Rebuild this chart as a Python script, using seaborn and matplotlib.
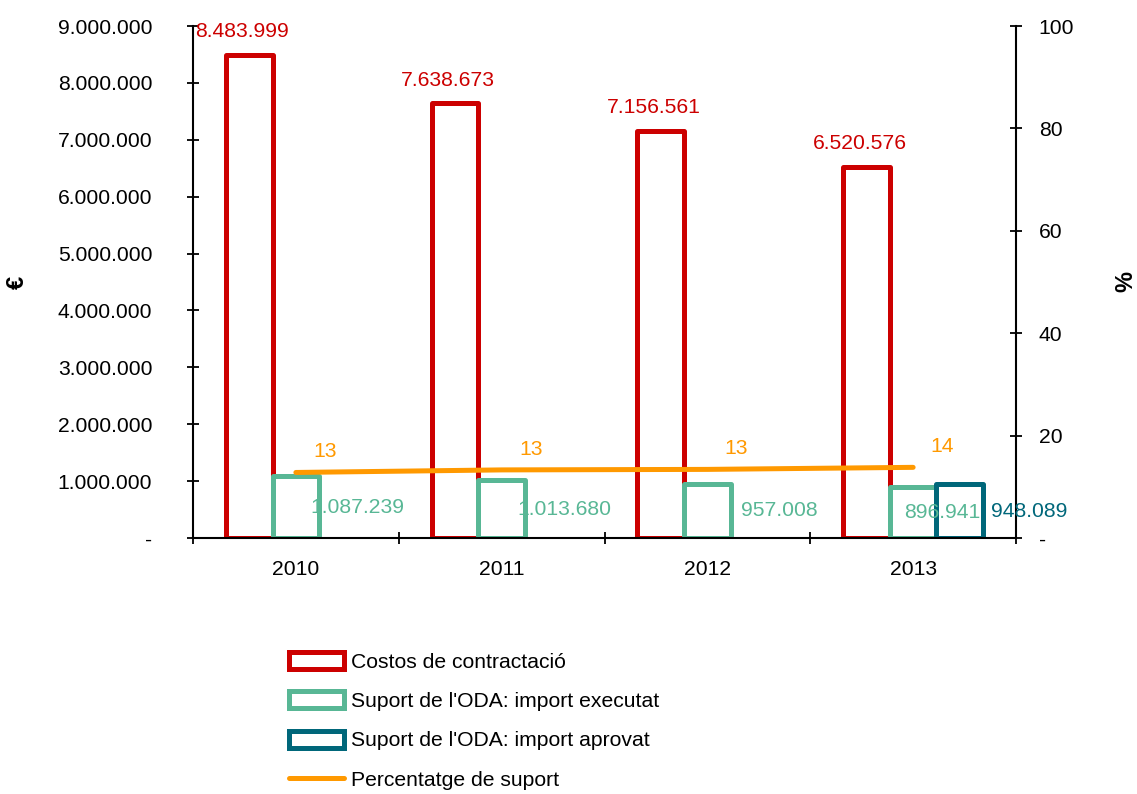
import seaborn as sns
import pandas as pd
import numpy as np
import matplotlib.pyplot as plt
from matplotlib.patches import Patch
from matplotlib.lines import Line2D
from matplotlib.ticker import FuncFormatter, FixedLocator

years = ['2010', '2011', '2012', '2013']
costos = [8483999, 7638673, 7156561, 6520576]
executat = [1087239, 1013680, 957008, 896941]
aprovat_year = ['2013']
aprovat = [948089]
percentatge = [12.8, 13.3, 13.4, 13.8]

series_names = ['Costos de contractació', "Suport de l'ODA: import executat",
                "Suport de l'ODA: import aprovat"]
line_name = 'Percentatge de suport'
colors = ['#CC0000', '#58B795', '#00677A']
orange = '#FF9900'

df = pd.concat([
    pd.DataFrame({'year': years, 'value': costos, 'series': series_names[0]}),
    pd.DataFrame({'year': years, 'value': executat, 'series': series_names[1]}),
    pd.DataFrame({'year': aprovat_year, 'value': aprovat, 'series': series_names[2]}),
])

sns.set_style('white')
plt.rcParams['font.family'] = ['Liberation Sans', 'DejaVu Sans']
plt.rcParams['font.size'] = 15
for k in ['text.color', 'axes.labelcolor', 'xtick.color', 'ytick.color']:
    plt.rcParams[k] = 'black'
fs = 15.2

fig = plt.figure(figsize=(11.37, 7.94), dpi=100)
ax = fig.add_axes([193 / 1137, 1 - 538 / 794, 823 / 1137, 512 / 794])

sns.barplot(data=df, x='year', y='value', hue='series', hue_order=series_names,
            order=years, palette=colors, fill=False, linewidth=3.6, width=0.68,
            gap=0, errorbar=None, legend=False, ax=ax)
for p in ax.patches:
    p.set_joinstyle('round')

ax.set_xlim(-0.5, len(years) - 0.5)
ax.set_ylim(0, 9000000)
ax.set_yticks(np.arange(0, 9000001, 1000000))


def euro_fmt(v, pos):
    if v == 0:
        return '-'
    return f'{int(v):,}'.replace(',', '.')


ax.yaxis.set_major_formatter(FuncFormatter(euro_fmt))
ax.set_xlabel('')
ax.set_ylabel('€', fontweight='bold', fontsize=17)
ax.yaxis.set_label_coords(-0.199, 0.5)

for s in ['left', 'right', 'bottom']:
    ax.spines[s].set_visible(True)
    ax.spines[s].set_color('black')
    ax.spines[s].set_linewidth(1.5)
ax.spines['top'].set_visible(False)
ax.tick_params(axis='y', direction='inout', length=8.6, width=1.3, pad=25,
               labelsize=fs, left=True)
ax.tick_params(axis='x', which='major', length=0, pad=16, labelsize=fs)
ax.xaxis.set_minor_locator(FixedLocator(np.arange(-0.5, len(years), 1)))
ax.tick_params(axis='x', which='minor', direction='inout', length=8.6, width=1.3,
               bottom=True)

# value labels on the bars
x = np.arange(len(years))
bw = 0.68 / 3
for i, v in enumerate(costos):
    ax.annotate(euro_fmt(v, None), (x[i] - bw, v), xytext=(-5, 10),
                textcoords='offset points', ha='center', va='bottom',
                color=colors[0], fontsize=fs)
exec_dx = [44, 45, 52, 21]
for i, v in enumerate(executat):
    ax.annotate(euro_fmt(v, None), (x[i], v / 2), xytext=(exec_dx[i], 0),
                textcoords='offset points', ha='center', va='center',
                color=colors[1], fontsize=fs)
for yr, v in zip(aprovat_year, aprovat):
    i = years.index(yr)
    ax.annotate(euro_fmt(v, None), (x[i] + bw, v / 2), xytext=(50, 0),
                textcoords='offset points', ha='center', va='center',
                color=colors[2], fontsize=fs)

# percentage line on the secondary axis
ax2 = ax.twinx()
sns.lineplot(x=x, y=percentatge, color=orange, linewidth=3.6, ax=ax2)
ax2.set_ylim(0, 100)
ax2.set_yticks(np.arange(0, 101, 20))
ax2.yaxis.set_major_formatter(FuncFormatter(lambda v, p: '-' if v == 0 else f'{int(v)}'))
ax2.tick_params(axis='y', direction='inout', length=8.6, width=1.3, pad=12,
                labelsize=fs, right=True)
ax2.set_ylabel('%', fontweight='bold', fontsize=17)
ax2.yaxis.set_label_coords(1.12, 0.5)
for s in ax2.spines.values():
    s.set_visible(False)
for i, v in enumerate(percentatge):
    ax2.annotate(f'{v:.0f}', (x[i], v), xytext=(21, 15),
                 textcoords='offset points', ha='center', va='center',
                 color=orange, fontsize=fs)

handles = [Patch(facecolor='white', edgecolor=c, linewidth=3.6, joinstyle='round')
           for c in colors]
handles.append(Line2D([0], [0], color=orange, linewidth=3.6))
fig.legend(handles, series_names + [line_name], loc='upper left',
           bbox_to_anchor=(289 / 1137, 1 - 652 / 794), frameon=False,
           fontsize=fs, handlelength=2.6, handleheight=0.85, handletextpad=0.35,
           labelspacing=0.93, borderpad=0, borderaxespad=0)

fig.savefig('out.png', dpi=100)
